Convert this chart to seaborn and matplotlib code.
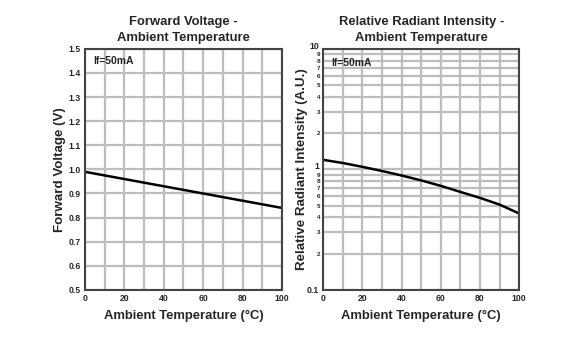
import numpy as np
import pandas as pd
import matplotlib
matplotlib.use("Agg")
from matplotlib import pyplot as plt
from matplotlib.ticker import FixedLocator
import seaborn as sns

# data (If = 50mA)
temp_v = [0, 20, 40, 60, 80, 100]
fwd_voltage = [0.99, 0.96, 0.93, 0.90, 0.87, 0.84]

temp_i = [0, 10, 20, 30, 40, 50, 60, 70, 80, 90, 100]
rel_intensity = [1.20, 1.13, 1.05, 0.97, 0.89, 0.81, 0.73, 0.65, 0.58, 0.51, 0.43]

x_ticks = [0, 20, 40, 60, 80, 100]
v_ticks = [0.5, 0.6, 0.7, 0.8, 0.9, 1.0, 1.1, 1.2, 1.3, 1.4, 1.5]
log_major = [0.1, 1, 10]
log_major_labels = ["0.1", "1", "10"]
log_minor = [0.2, 0.3, 0.4, 0.5, 0.6, 0.7, 0.8, 0.9, 2, 3, 4, 5, 6, 7, 8, 9]
log_minor_labels = ["2", "3", "4", "5", "6", "7", "8", "9"] * 2

sns.set_style("white")
plt.rcParams['font.family'] = ['Liberation Sans', 'DejaVu Sans']
plt.rcParams['font.weight'] = 'bold'

grid_col = '#bdbdbd'
spine_col = '#444444'

fig = plt.figure(figsize=(5.62, 3.54), dpi=100)
ax1 = fig.add_axes([0.151, 0.181, 0.351, 0.681])
ax2 = fig.add_axes([0.575, 0.181, 0.349, 0.681])

df_v = pd.DataFrame({'T': temp_v, 'V': fwd_voltage})
df_i = pd.DataFrame({'T': temp_i, 'I': rel_intensity})

sns.lineplot(data=df_v, x='T', y='V', ax=ax1, color='black', linewidth=1.8)
sns.lineplot(data=df_i, x='T', y='I', ax=ax2, color='black', linewidth=1.8)

# left panel
ax1.set_xlim(0, 100)
ax1.set_ylim(0.5, 1.5)
ax1.set_xticks(x_ticks)
ax1.set_xticks(np.arange(0, 101, 10), minor=True)
ax1.set_yticks(v_ticks)
ax1.set_yticklabels([f"{v:.1f}" for v in v_ticks])
ax1.set_title("Forward Voltage -\nAmbient Temperature", fontsize=9.4, fontweight='bold', pad=6, linespacing=1.35)
ax1.set_xlabel("Ambient Temperature (°C)", fontsize=9.4, fontweight='bold', labelpad=5)
ax1.set_ylabel("Forward Voltage (V)", fontsize=9.6, fontweight='bold')
ax1.yaxis.set_label_coords(-0.098, 0.5)
ax1.text(4, 1.45, "If=50mA", fontsize=7.5, fontweight='bold', va='center', ha='left')

# right panel (log)
ax2.set_yscale('log')
ax2.set_xlim(0, 100)
ax2.set_ylim(0.1, 10)
ax2.set_xticks(x_ticks)
ax2.set_xticks(np.arange(0, 101, 10), minor=True)
ax2.set_yticks(log_major)
ax2.set_yticklabels(log_major_labels)
ax2.yaxis.set_minor_locator(FixedLocator(log_minor))
ax2.set_yticks(log_minor, minor=True)
ax2.set_yticklabels(log_minor_labels, minor=True, fontsize=4.5)
ax2.set_title("Relative Radiant Intensity -\nAmbient Temperature", fontsize=9.4, fontweight='bold', pad=6, linespacing=1.35)
ax2.set_xlabel("Ambient Temperature (°C)", fontsize=9.4, fontweight='bold', labelpad=5)
ax2.set_ylabel("Relative Radiant Intensity (A.U.)", fontsize=9.6, fontweight='bold')
ax2.yaxis.set_label_coords(-0.075, 0.5)
ax2.text(4, 7.6, "If=50mA", fontsize=7.5, fontweight='bold', va='center', ha='left')

for ax in (ax1, ax2):
    ax.grid(True, which='both', color=grid_col, linewidth=1.6)
    ax.set_axisbelow(True)
    for s in ax.spines.values():
        s.set_color(spine_col)
        s.set_linewidth(1.5)
    ax.tick_params(axis='both', which='major', labelsize=6.2, length=0, pad=3)
    ax.tick_params(axis='both', which='minor', length=0, pad=2)
    for lab in ax.get_xticklabels() + ax.get_yticklabels():
        lab.set_fontweight('bold')

# the "1" and "10" labels sit a touch above their line so the small "9" fits beside them
for lab in ax2.get_yticklabels()[1:]:
    lab.set_va('baseline')

fig.savefig("out.png", dpi=100, facecolor='white')
